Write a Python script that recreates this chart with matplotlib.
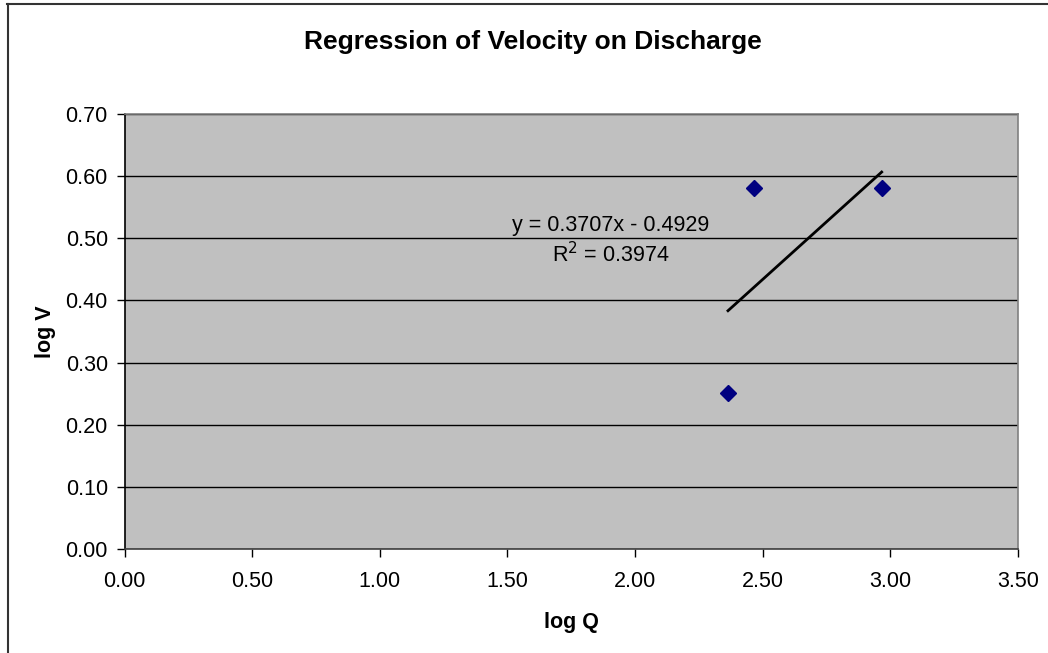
import matplotlib
matplotlib.use("Agg")
import matplotlib.pyplot as plt
from matplotlib.lines import Line2D

plt.rcParams['font.family'] = ['Liberation Sans', 'DejaVu Sans']

log_q = [2.364, 2.465, 2.966]
log_v = [0.251, 0.581, 0.581]
slope = 0.3707
intercept = -0.4929
eq_text = "y = 0.3707x - 0.4929"
r2_text = r"R$^2$ = 0.3974"
x_ticks = [0.0, 0.5, 1.0, 1.5, 2.0, 2.5, 3.0, 3.5]
y_ticks = [0.0, 0.1, 0.2, 0.3, 0.4, 0.5, 0.6, 0.7]

W, H = 1048, 653
fig = plt.figure(figsize=(W/100, H/100), dpi=100)
ax = fig.add_axes([124.5/W, 1-549/H, (1018-124.5)/W, (549-114)/H])
ax.set_facecolor('#C0C0C0')

ax.set_xlim(0, 3.5)
ax.set_ylim(0, 0.7)
ax.set_xticks(x_ticks)
ax.set_yticks(y_ticks)
ax.set_xticklabels([f"{t:.2f}" for t in x_ticks])
ax.set_yticklabels([f"{t:.2f}" for t in y_ticks])
ax.tick_params(axis='both', direction='out', length=6, width=1, labelsize=15.5, colors='black')
ax.tick_params(axis='y', pad=6)
ax.tick_params(axis='x', pad=10)
ax.grid(axis='y', color='black', linewidth=1)
ax.set_axisbelow(True)

for s in ['top', 'right']:
    ax.spines[s].set_color('#808080')
    ax.spines[s].set_linewidth(1.2)
ax.spines['left'].set_color('black')
ax.spines['bottom'].set_color('#404040')
ax.spines['left'].set_linewidth(1.2)
ax.spines['bottom'].set_linewidth(1.2)

xs = [min(log_q), max(log_q)]
ax.plot(xs, [slope*x + intercept for x in xs], color='black', linewidth=2, zorder=3)
ax.plot(log_q, log_v, linestyle='none', marker='D', markersize=8,
        color='#000080', zorder=4)

ax.text(1.906, 0.521, eq_text, ha='center', va='center', fontsize=15.5)
ax.text(1.906, 0.473, r2_text, ha='center', va='center', fontsize=15.5)

ax.set_xlabel("log Q", fontsize=15.5, fontweight='bold', labelpad=14)
ax.set_ylabel("log V", fontsize=15.5, fontweight='bold', labelpad=7)
fig.text(533/W, 1-42/H, "Regression of Velocity on Discharge",
         ha='center', va='center', fontsize=19, fontweight='bold')

fig.lines.append(Line2D([7/W, 1], [1-3.5/H, 1-3.5/H], transform=fig.transFigure,
                        color='#333333', linewidth=1.5))
fig.lines.append(Line2D([8/W, 8/W], [0, 1-3.5/H], transform=fig.transFigure,
                        color='#333333', linewidth=1.5))

fig.savefig("out.png", dpi=100)
